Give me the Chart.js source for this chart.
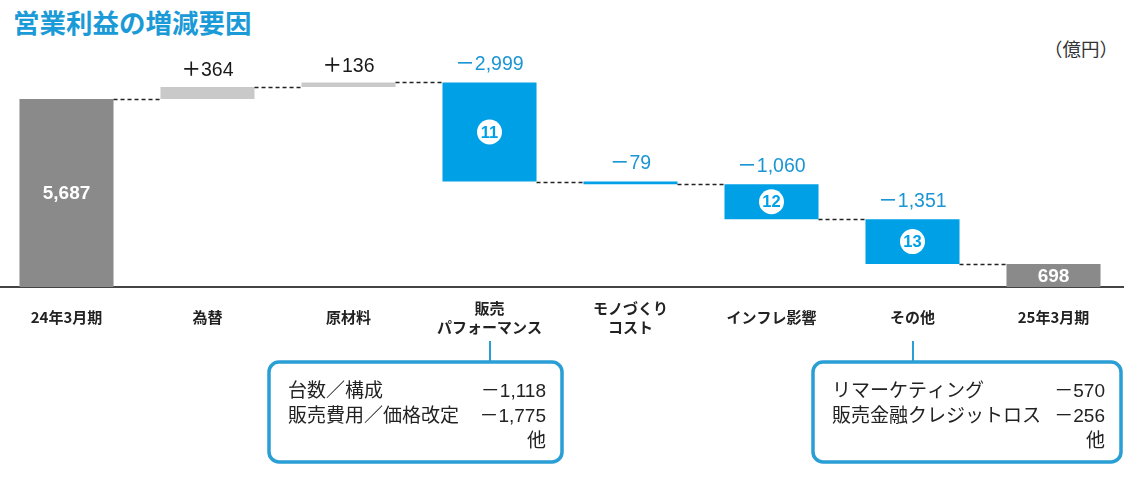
<!DOCTYPE html>
<html><head><meta charset="utf-8">
<script src="https://cdn.jsdelivr.net/npm/chart.js@4.4.0/dist/chart.umd.min.js"></script>
<style>
html,body{margin:0;padding:0;background:#fff;}
body{width:1140px;height:481px;position:relative;overflow:hidden;font-family:'Noto Sans CJK JP',sans-serif;}
#title{position:absolute;left:13px;top:6px;font-size:26.5px;font-weight:bold;color:#1a9ad6;line-height:32px;white-space:nowrap;}
#unit{position:absolute;left:1044px;top:35px;font-size:18.5px;color:#333;line-height:26px;white-space:nowrap;}
#wrap{position:absolute;left:-4px;top:0;width:1128px;height:481px;}
</style></head><body>
<div id="title">営業利益の増減要因</div>
<div id="unit">（億円）</div>
<div id="wrap"><canvas id="c" width="1128" height="481"></canvas></div>
<script>
const categories = [['24年3月期'], ['為替'], ['原材料'], ['販売', 'パフォーマンス'], ['モノづくり', 'コスト'], ['インフレ影響'], ['その他'], ['25年3月期']];
const startValue = 5687;
const changeValues = [364, 136, -2999, -79, -1060, -1351];
const endValue = 698;
const valueLabels = ['5,687', '＋364', '＋136', '－2,999', '－79', '－1,060', '－1,351', '698'];
const circleMarks = [null, null, null, '11', null, '12', '13', null];
const callout1Items = [['台数／構成', '－1,118'], ['販売費用／価格改定', '－1,775'], ['', '他']];
const callout2Items = [['リマーケティング', '－570'], ['販売金融クレジットロス', '－256'], ['', '他']];

// build floating bar table from the values
const floatData = [[0, startValue]];
const levels = [startValue];
let run = startValue;
changeValues.forEach(v => {
  const a = run; run += v;
  floatData.push([Math.min(a, run), Math.max(a, run)]);
  levels.push(run);
});
floatData.push([0, endValue]);
levels.push(endValue);

const GRAY = '#8a8a8a', LIGHT = '#c9c9c9', BLUE = '#00a0e6', BLUE_TXT = '#1b95d3', BOX = '#2a9fd6';
const barColors = floatData.map((d, i) => {
  if (i === 0 || i === floatData.length - 1) return GRAY;
  return changeValues[i - 1] >= 0 ? LIGHT : BLUE;
});

const NUMFONT = '"Liberation Sans", "Noto Sans CJK JP", sans-serif';

const overlay = {
  id: 'overlay',
  afterDatasetsDraw(chart) {
    const ctx = chart.ctx;
    const meta = chart.getDatasetMeta(0);
    const ys = chart.scales.y;
    const n = meta.data.length;
    ctx.save();
    // dashed connectors
    ctx.strokeStyle = '#222';
    ctx.lineWidth = 1.3;
    ctx.setLineDash([4, 3]);
    for (let i = 0; i < n - 1; i++) {
      const b = meta.data[i], nb = meta.data[i + 1];
      const py = Math.round(ys.getPixelForValue(levels[i])) + 0.5;
      ctx.beginPath();
      ctx.moveTo(b.x + b.width / 2, py);
      ctx.lineTo(nb.x - nb.width / 2, py);
      ctx.stroke();
    }
    ctx.setLineDash([]);
    // labels
    ctx.textAlign = 'center';
    ctx.textBaseline = 'middle';
    for (let i = 0; i < n; i++) {
      const b = meta.data[i];
      const top = Math.min(b.y, b.base), bot = Math.max(b.y, b.base);
      if (i === 0 || i === n - 1) {
        ctx.fillStyle = '#fff';
        ctx.font = 'bold 19px ' + NUMFONT;
        ctx.fillText(valueLabels[i], b.x, (top + bot) / 2 + 1);
      } else {
        const pos = changeValues[i - 1] >= 0;
        ctx.fillStyle = pos ? '#1a1a1a' : BLUE_TXT;
        ctx.font = '500 19.5px ' + NUMFONT;
        ctx.fillText(valueLabels[i], b.x, top - (pos ? 16 : 18));
      }
      if (circleMarks[i]) {
        const cy = (top + bot) / 2;
        ctx.beginPath();
        ctx.arc(b.x, cy, 12.5, 0, Math.PI * 2);
        ctx.fillStyle = '#fff';
        ctx.fill();
        ctx.fillStyle = BLUE;
        ctx.font = 'bold 16.5px "Liberation Sans Narrow", "Liberation Sans", sans-serif';
        ctx.fillText(circleMarks[i], b.x, cy + 1);
      }
    }
    // callouts
    const drawCallout = (idx, dl, dr, items) => {
      const cx = Math.round(meta.data[idx].x);
      const left = cx + dl, right = cx + dr, topY = 362, botY = 462;
      ctx.strokeStyle = BOX;
      ctx.lineWidth = 2;
      ctx.beginPath();
      ctx.moveTo(cx, 341);
      ctx.lineTo(cx, topY);
      ctx.stroke();
      ctx.lineWidth = 3.5;
      ctx.beginPath();
      ctx.roundRect(left, topY, right - left, botY - topY, 10);
      ctx.stroke();
      ctx.fillStyle = '#222';
      ctx.font = '19px ' + NUMFONT;
      const rows = [392, 417, 442];
      items.forEach((it, k) => {
        ctx.textAlign = 'left';
        ctx.fillText(it[0], left + 19, rows[k]);
        ctx.textAlign = 'right';
        ctx.fillText(it[1], right - 16, rows[k]);
      });
    };
    drawCallout(3, -221, 72, callout1Items);
    drawCallout(6, -100, 208, callout2Items);
    ctx.restore();
  }
};

new Chart(document.getElementById('c'), {
  type: 'bar',
  data: {
    labels: categories,
    datasets: [{
      data: floatData,
      backgroundColor: barColors,
      borderWidth: 0,
      barPercentage: 0.667,
      categoryPercentage: 1
    }]
  },
  options: {
    responsive: false,
    animation: false,
    layout: { padding: { top: 40, bottom: 114, left: 0, right: 0 } },
    plugins: { legend: { display: false }, tooltip: { enabled: false }, title: { display: false } },
    scales: {
      x: {
        grid: { display: false, drawTicks: false },
        border: { display: true, color: '#444', width: 2 },
        ticks: {
          color: '#222',
          font: { family: "'Noto Sans CJK JP', sans-serif", size: 15, weight: 'bold', lineHeight: '19px' },
          padding: 21,
          crossAlign: 'center',
          maxRotation: 0,
          autoSkip: false
        }
      },
      y: { display: false, min: 0, max: 7471 }
    }
  },
  plugins: [overlay]
});
</script>
</body></html>
